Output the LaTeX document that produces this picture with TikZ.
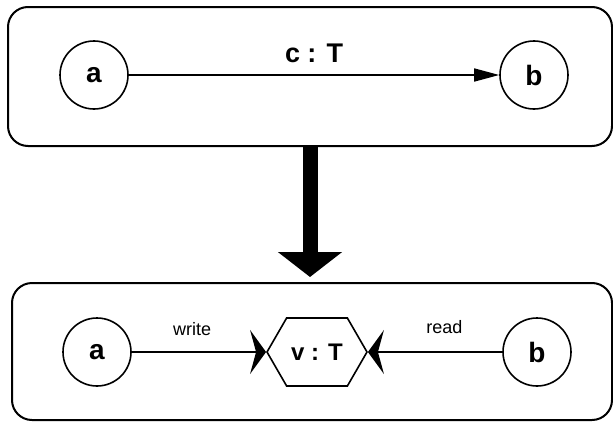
\documentclass[tikz,border=0pt]{standalone}
\usepackage{fontspec}
\setmainfont{Liberation Sans}
\usetikzlibrary{arrows.meta,automata,positioning,shapes.symbols}

\begin{document}
\begin{tikzpicture}[x=1pt,y=-1pt,->,>={Triangle[length=25pt,width=13pt]},line width=1.6pt]
  \tikzstyle{every state}=[fill=none,draw=black,text=black,minimum size=68pt,inner sep=0pt,font=\fontsize{28}{28}\selectfont\bfseries]
  \tikzstyle{frame}=[draw,rounded corners=20pt,line width=2pt]
  \tikzstyle{var}=[draw,signal,signal to=east and west,signal pointer angle=120,minimum width=100pt,minimum height=68pt,inner sep=0pt,font=\fontsize{24}{24}\selectfont\bfseries]
  \tikzstyle{chan}=[font=\fontsize{27}{27}\selectfont\bfseries]
  \tikzstyle{lbl}=[font=\fontsize{18}{18}\selectfont]
  \tikzstyle{barb}=[-{Stealth[length=16pt,width=44pt,inset=6pt]}]
  \useasboundingbox (0,0) rectangle (613,423);

  % channel view
  \node[frame,minimum width=604pt,minimum height=139pt] (top) at (310,76.5) {};
  \node[state] (a1) at (94,75)                       {a};
  \node[state] (b1) [right of=a1,node distance=440pt] {b};

  % variable view
  \node[frame,minimum width=600pt,minimum height=137pt] (bot) at (312,351.5) {};
  \node[state] (a2) at (97,352)                    {a};
  \node[var]   (v)  [right of=a2,node distance=220pt] {v : T};
  \node[state] (b2) [right of=v,node distance=220pt]  {b};

  \path
  (a1) edge node[chan,above=8pt] {c : T} (b1)
  (a2) edge[barb] node[lbl,above=12pt,pos=0.45] {write} (v.west)
  (b2) edge[barb] node[lbl,above=14pt,pos=0.43] {read} (v.east);

  \draw[line width=15pt,-{Triangle[length=25pt,width=63pt]},shorten >=5pt]
    (top.south) -- (top.south |- bot.north);
\end{tikzpicture}
\end{document}
